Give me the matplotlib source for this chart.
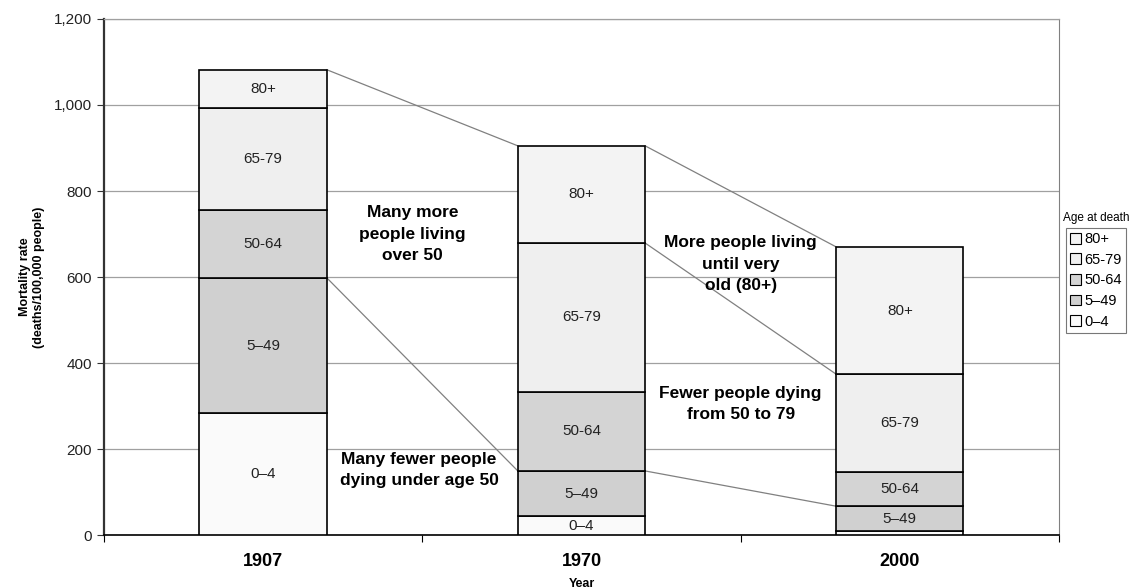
import matplotlib
matplotlib.use('Agg')
import matplotlib.pyplot as plt
import numpy as np

plt.rcParams['font.family'] = ['Liberation Sans', 'DejaVu Sans']

# dane
years = ['1907', '1970', '2000']
groups = ['0–4', '5–49', '50-64', '65-79', '80+']
age_0_4 = [283, 44, 9]
age_5_49 = [315, 105, 58]
age_50_64 = [157, 184, 80]
age_65_79 = [237, 346, 227]
age_80 = [90, 226, 296]
colors = ['#fafafa', '#d0d0d0', '#d4d4d4', '#efefef', '#f3f3f3']

values = [age_0_4, age_5_49, age_50_64, age_65_79, age_80]

fig = plt.figure(figsize=(11.29, 5.88), dpi=100)
ax = fig.add_axes([0.0921, 0.0901, 0.8459, 0.8776])

x = np.arange(len(years))
w = 0.4
bottom = np.zeros(len(years))
handles = []
for i, vals in enumerate(values):
    bars = ax.bar(x, vals, w, bottom=bottom, color=colors[i], edgecolor='black',
                  linewidth=1.2, label=groups[i], zorder=3)
    handles.append(bars)
    for j, v in enumerate(vals):
        if v > 30:
            ax.text(x[j], bottom[j] + v / 2, groups[i], ha='center', va='center',
                    fontsize=11, color='#222222', zorder=4)
    bottom = bottom + np.array(vals)

# linie laczace
cum = np.cumsum(np.array(values), axis=0)
links = [(4, 0), (4, 1), (1, 0), (1, 1), (3, 1)]
for lvl, j in links:
    ax.plot([x[j] + w / 2, x[j + 1] - w / 2], [cum[lvl][j], cum[lvl][j + 1]],
            color='#808080', linewidth=0.9, zorder=2)

ax.set_xlim(-0.5, 2.5)
ax.set_ylim(0, 1200)
ax.set_yticks(range(0, 1201, 200))
ax.set_yticklabels(['{:,}'.format(v) for v in range(0, 1201, 200)], fontsize=11, color='#222222')
ax.set_xticks([-0.5, 0.5, 1.5, 2.5])
ax.set_xticklabels([])
ax.set_xticks(x, minor=True)
ax.set_xticklabels(years, minor=True, fontsize=13, fontweight='bold')
ax.tick_params(axis='x', which='minor', length=0, pad=13)
ax.tick_params(axis='x', which='major', length=5, color='black')
ax.tick_params(axis='y', length=5, color='#333333')
ax.grid(axis='y', color='#a0a0a0', linewidth=0.9, zorder=0)

ax.spines['left'].set_color('#333333')
ax.spines['left'].set_linewidth(1.6)
ax.spines['bottom'].set_color('black')
ax.spines['bottom'].set_linewidth(1.2)
ax.spines['right'].set_color('#808080')
ax.spines['top'].set_color('#a0a0a0')
ax.spines['top'].set_linewidth(0.9)

ax.set_ylabel('Mortality rate\n(deaths/100,000 people)', fontsize=9, fontweight='bold')
ax.yaxis.set_label_coords(-0.062, 0.5)
ax.set_xlabel('Year', fontsize=9, fontweight='bold')
ax.xaxis.set_label_coords(0.5, -0.0833)

txt = dict(ha='center', va='center', fontsize=12.5, fontweight='bold', linespacing=1.55, zorder=5)
ax.text(0.47, 700, 'Many more\npeople living\nover 50', **txt)
ax.text(0.49, 151, 'Many fewer people\ndying under age 50', **txt)
ax.text(1.5, 630, 'More people living\nuntil very\nold (80+)', **txt)
ax.text(1.5, 305, 'Fewer people dying\nfrom 50 to 79', **txt)

leg = ax.legend(handles[::-1], groups[::-1], loc='upper left',
                bbox_to_anchor=(1.0073, 0.595), fontsize=10.5,
                frameon=True, fancybox=False, edgecolor='#555555', handlelength=0.75,
                handleheight=0.75, handletextpad=0.2, borderpad=0.3, labelspacing=0.45,
                borderaxespad=0)
leg.get_frame().set_linewidth(0.8)
for p in leg.get_patches():
    p.set_linewidth(0.8)
fig.text(1063 / 1129, 1 - 218 / 588, 'Age at death', fontsize=8.5, ha='left', va='center')

plt.savefig('out.png', dpi=100)
